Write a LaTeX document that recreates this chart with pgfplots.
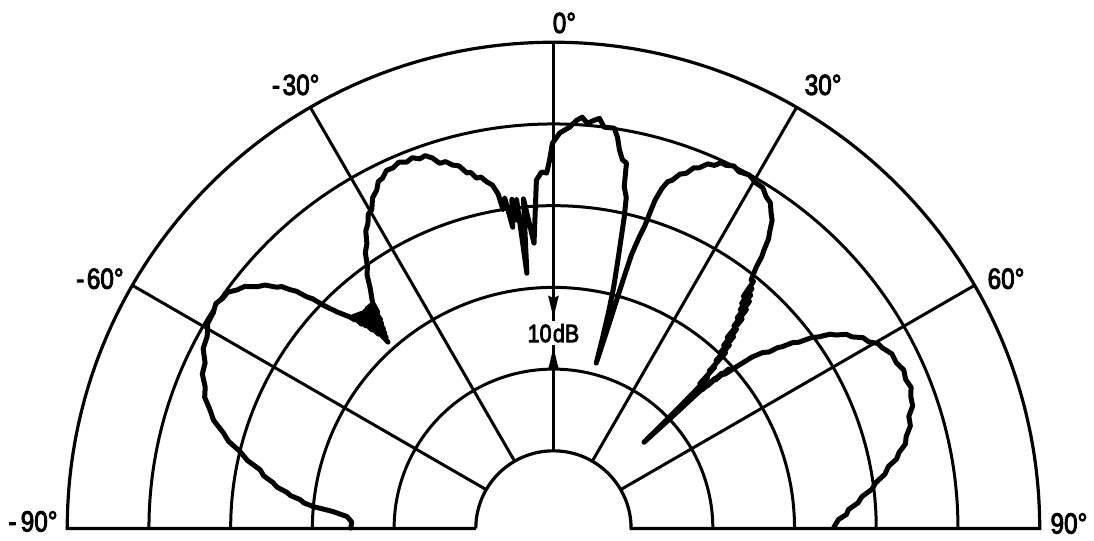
\documentclass[border=0pt]{standalone}
\usepackage{pgfplots}
\pgfplotsset{compat=1.18}
\usepackage{pgfplotstable}
\usepackage{fontspec}
\setmainfont{Liberation Sans}
\newfontfamily\labfont{Liberation Sans}[FakeBold=3.5]
\usepackage{graphicx}
\usetikzlibrary{arrows.meta}

% angle (deg, clockwise from 0 deg at top), level (dB, 0 dB = outer circle)
\pgfplotstableread{
a db
-89.9 -34.7
-88.2 -34.8
-86.7 -34.2
-85.6 -32.4
-84.8 -30.0
-84.15 -28.8
-83.5 -28.3
-82.9 -27.1
-82.3 -26.6
-81.5 -25.3
-80.7 -24.7
-79.7 -23.45
-78.7 -22.9
-77.45 -21.1
-76.2 -20.0
-75.0 -18.35
-73.8 -17.4
-72.35 -15.85
-70.9 -15.0
-69.4 -13.9
-67.9 -13.5
-66.25 -12.55
-64.6 -12.3
-62.8 -11.3
-61.0 -11.05
-59.3 -10.3
-57.6 -10.2
-56.35 -9.85
-55.1 -10.2
-54.05 -10.25
-53.0 -11.0
-51.9 -11.5
-50.8 -12.7
-49.85 -13.3
-48.9 -14.6
-48.35 -14.95
-47.8 -16.0
-47.3 -16.7
-46.8 -18.1
-46.35 -18.8
-45.9 -20.2
-45.0 -22.0
-43.9 -23.6
-43.6 -24.3
-43.4 -23.8
-43.2 -25.2
-43.0 -23.9
-42.8 -25.7
-42.6 -24.0
-42.4 -26.6
-42.2 -24.1
-42.0 -27.5
-41.8 -24.2
-41.6 -29.0
-41.4 -24.3
-41.2 -28.4
-41.0 -24.3
-40.8 -27.9
-40.6 -24.3
-40.4 -27.4
-40.2 -24.2
-40.0 -26.8
-39.8 -24.2
-39.6 -26.3
-39.4 -24.2
-39.1 -25.4
-38.7 -24.1
-37.25 -22.4
-36.3 -20.95
-35.4 -20.2
-34.3 -18.65
-33.2 -17.8
-32.25 -16.45
-31.3 -15.8
-30.5 -14.85
-29.7 -14.6
-28.65 -13.35
-27.6 -12.8
-26.8 -11.95
-26.0 -11.8
-25.0 -11.15
-24.0 -11.2
-22.9 -10.85
-21.8 -11.2
-20.85 -10.95
-19.9 -11.4
-19.0 -11.25
-18.1 -11.8
-17.3 -12.7
-16.4 -12.7
-15.5 -13.35
-14.6 -13.65
-13.7 -14.7
-13.05 -14.8
-12.4 -15.6
-11.65 -15.6
-10.9 -16.3
-10.1 -16.8
-9.4 -18.0
-9.0 -20.0
-8.4 -18.6
-7.7 -22.3
-7.2 -18.9
-6.8 -21.5
-6.4 -19.0
-5.95 -28.1
-5.2 -19.0
-3.9 -24.5
-2.8 -16.8
-1.9 -15.85
-1.1 -16.0
-0.6 -14.4
-0.15 -12.35
0.9 -11.1
2.3 -10.35
3.2 -9.5
4.0 -9.05
4.8 -9.75
5.7 -9.3
6.4 -9.0
7.2 -10.0
8.65 -9.95
9.3 -11.0
9.9 -12.5
10.6 -13.6
11.3 -13.9
11.7 -16.8
12.4 -18.0
12.8 -20.4
13.2 -23.6
13.5 -25.7
14.0 -29.0
14.3 -32.3
14.45 -35.7
14.5 -38.6
15.2 -33.7
15.6 -28.6
15.9 -24.7
16.4 -22.3
16.8 -20.8
17.0 -19.0
17.2 -17.4
17.7 -15.8
18.25 -14.8
18.8 -14.5
19.65 -13.45
20.5 -13.1
21.25 -12.15
22.0 -11.9
22.95 -11.05
23.9 -10.9
24.65 -10.25
25.4 -10.3
26.45 -9.95
27.5 -10.3
28.95 -10.05
30.4 -10.5
31.55 -10.55
32.7 -11.3
33.65 -11.6
34.6 -12.6
35.35 -13.25
36.1 -14.6
36.6 -15.35
37.1 -16.8
37.45 -17.55
37.8 -19.0
38.5 -20.65
39.0 -20.6
39.3 -22.8
39.6 -21.4
39.9 -23.6
40.2 -22.1
40.5 -24.3
40.8 -22.8
41.1 -25.3
41.4 -23.8
41.7 -26.3
42.0 -25.0
42.3 -27.9
42.6 -26.4
42.9 -28.9
43.2 -27.3
43.5 -29.8
43.8 -28.4
44.1 -30.9
44.4 -29.4
44.7 -32.4
45.0 -31.6
45.3 -34.3
45.6 -33.1
45.8 -34.6
46.0 -37.7
46.2 -41.4
46.4 -44.2
46.7 -40.1
46.8 -35.6
46.9 -33.5
47.0 -34.6
47.1 -32.5
47.2 -33.8
47.3 -31.5
47.5 -32.6
47.7 -30.5
48.0 -31.3
48.5 -29.7
49.2 -27.4
49.95 -26.05
50.7 -25.4
51.1 -24.25
51.5 -23.8
52.15 -22.45
52.8 -21.8
53.5 -20.25
54.2 -19.4
54.9 -18.15
55.6 -17.6
56.45 -16.5
57.3 -16.1
58.35 -15.0
59.4 -14.65
60.3 -13.8
61.2 -13.6
62.7 -12.9
64.2 -12.9
65.65 -12.45
67.1 -12.7
68.45 -12.45
69.8 -12.9
71.15 -13.05
72.5 -13.9
73.95 -14.05
75.4 -14.9
76.5 -15.2
77.6 -16.2
78.55 -16.65
79.5 -17.8
80.7 -18.4
81.9 -19.65
83.0 -20.25
84.1 -21.55
85.2 -22.1
86.3 -23.3
87.25 -23.6
88.2 -24.6
89.8 -25.2
}\radpattern

\begin{document}
\begin{tikzpicture}
\begin{axis}[
  x=4.09pt, y=4.09pt,
  xmin=-67.73, xmax=66.01, ymin=-1.222, ymax=64.67,
  hide axis, clip=false,
]
\path (rel axis cs:0,0) rectangle (rel axis cs:1,1);
% rings
\draw[line width=1.5pt] (axis cs:19.5,0) arc[start angle=0,end angle=180,radius=79.76pt];
\draw[line width=1.5pt] (axis cs:29.5,0) arc[start angle=0,end angle=180,radius=120.66pt];
\draw[line width=1.5pt] (axis cs:39.5,0) arc[start angle=0,end angle=180,radius=161.56pt];
\draw[line width=1.5pt] (axis cs:49.5,0) arc[start angle=0,end angle=180,radius=202.46pt];
% spokes
\draw[line width=1.5pt] (axis cs:-8.227,4.75) -- (axis cs:-51.53,29.75);
\draw[line width=1.5pt] (axis cs:-4.75,8.227) -- (axis cs:-29.75,51.53);
\draw[line width=1.5pt] (axis cs:0,9.5) -- (axis cs:0,59.5);
\draw[line width=1.5pt] (axis cs:4.75,8.227) -- (axis cs:29.75,51.53);
\draw[line width=1.5pt] (axis cs:8.227,4.75) -- (axis cs:51.53,29.75);
% frame: baseline, outer arc, hole
\draw[line width=1.6pt, line join=miter] (axis cs:-9.5,0) -- (axis cs:-59.5,0)
   arc[start angle=180,end angle=0,radius=243.36pt] -- (axis cs:9.5,0)
   arc[start angle=0,end angle=180,radius=38.86pt];
% 10 dB scale mark
\node[fill=white, inner sep=1.5pt, font=\labfont\fontsize{12.5}{14}\selectfont] at (axis cs:0,23.9) {\scalebox{0.86}[1]{10\kern0.8pt dB}};
\draw[line width=1.6pt, -{Stealth[length=11pt,width=5pt,inset=1pt]}] (axis cs:0,29.5) -- (axis cs:0,25.75);
\draw[line width=1.6pt, -{Stealth[length=11pt,width=5pt,inset=1pt]}] (axis cs:0,19.5) -- (axis cs:0,22.2);
% pattern
\addplot[black, line width=2.5pt, line join=round, line cap=round]
  table[x expr={(59.5+\thisrow{db})*sin(\thisrow{a})},
        y expr={(59.5+\thisrow{db})*cos(\thisrow{a})}] {\radpattern};
% angle labels
\begin{scope}[font=\labfont\fontsize{14.5}{16}\selectfont]
\node at (axis cs:1.34,61.86) {\scalebox{0.84}[1]{0°}};
\node at (axis cs:-31.54,54.28) {\scalebox{0.84}[1]{-\kern1.5pt30°}};
\node at (axis cs:33.0,54.28) {\scalebox{0.84}[1]{30°}};
\node at (axis cs:-55.5,30.56) {\scalebox{0.84}[1]{-\kern1.5pt60°}};
\node at (axis cs:55.38,30.56) {\scalebox{0.84}[1]{60°}};
\node at (axis cs:-63.69,0.86) {\scalebox{0.84}[1]{-\kern2.5pt90°}};
\node at (axis cs:63.08,0.61) {\scalebox{0.84}[1]{90°}};
\end{scope}
\end{axis}
\end{tikzpicture}
\end{document}
